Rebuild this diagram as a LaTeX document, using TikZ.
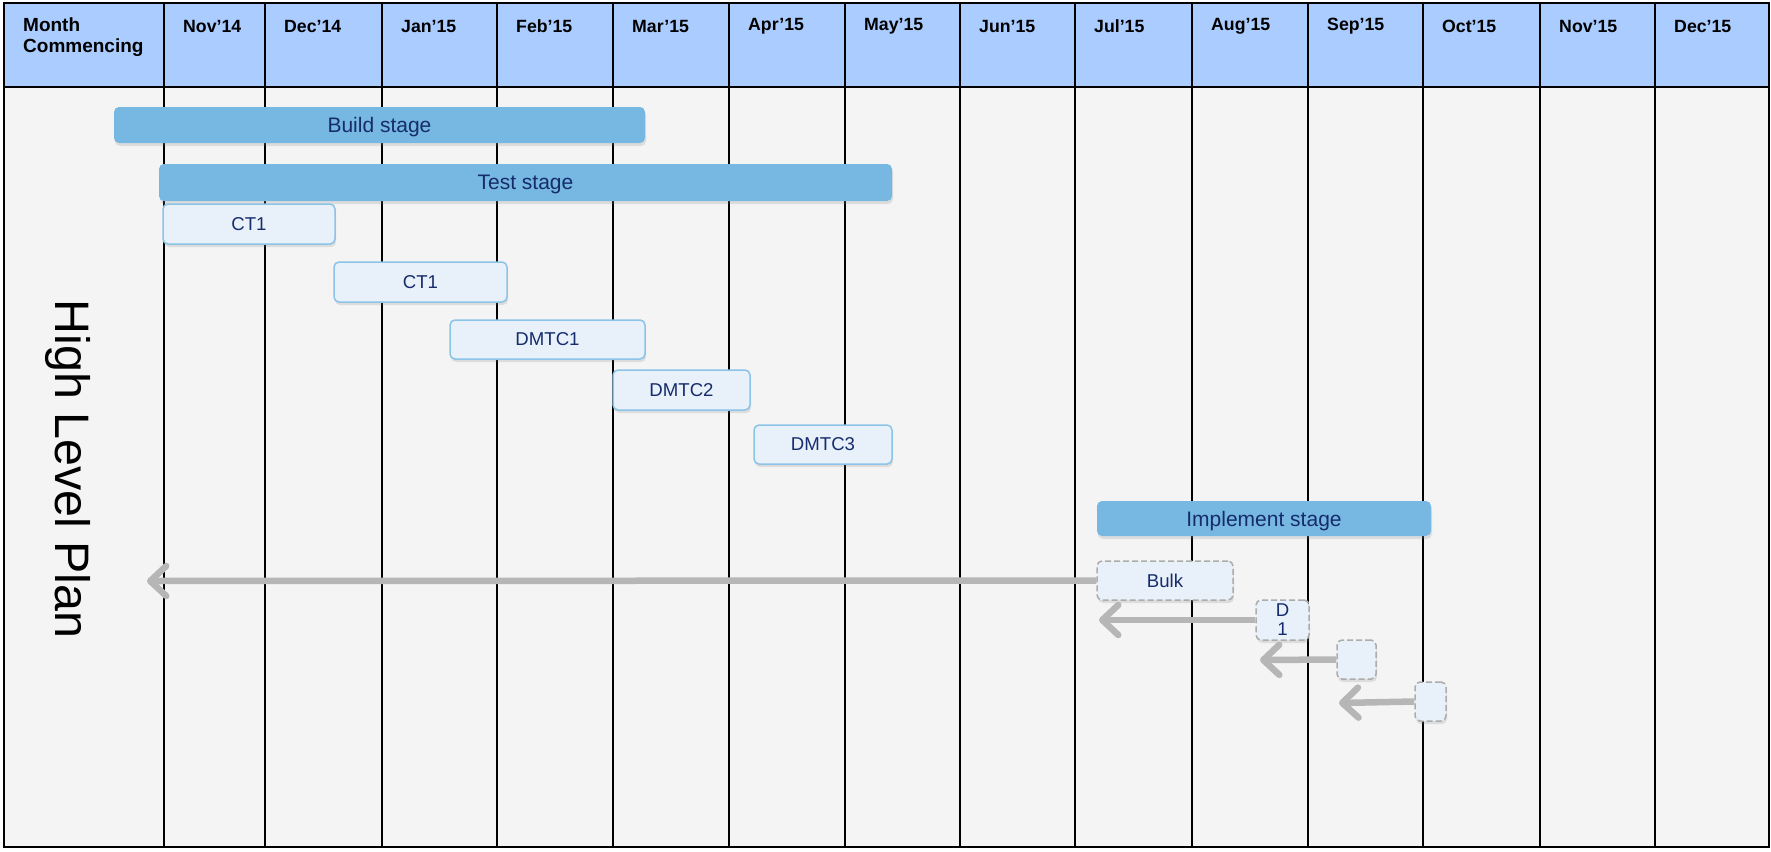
\documentclass[tikz,border=0pt]{standalone}
\usepackage{fontspec}
\setmainfont{Liberation Sans}
\usetikzlibrary{arrows.meta,shadows}

\definecolor{hdrblue}{RGB}{170,204,255}
\definecolor{bodygray}{RGB}{244,244,244}
\definecolor{stagefill}{RGB}{118,184,226}
\definecolor{navytext}{RGB}{22,44,108}
\definecolor{taskfill}{RGB}{232,240,249}
\definecolor{taskline}{RGB}{140,196,232}
\definecolor{dashline}{RGB}{172,172,172}
\definecolor{backgray}{RGB}{182,182,182}

\tikzset{
	stage/.style={rounded corners=5pt, fill=stagefill, text=navytext, inner sep=0pt,
		text depth=0pt, font=\fontsize{21}{24}\selectfont,
		drop shadow={shadow xshift=1pt, shadow yshift=-3pt, opacity=0.2}},
	task/.style={rounded corners=5pt, draw=taskline, line width=1.5pt, fill=taskfill,
		text=navytext, inner sep=0pt, font=\fontsize{18.6}{19}\selectfont,
		drop shadow={shadow xshift=1pt, shadow yshift=-3pt, opacity=0.2}},
	later/.style={task, draw=dashline, dash pattern=on 6pt off 3pt},
	back/.style={draw=backgray, line width=6.5pt,
		-{Straight Barb[length=16pt, width=30pt, round]}},
	month/.style={anchor=west, inner sep=0pt, font=\bfseries\fontsize{17.7}{20}\selectfont},
	grid/.style={line width=2.2pt}
}

\begin{document}
\begin{tikzpicture}[x=1pt, y=-1pt]

	% ---- canvas

	\useasboundingbox (0,0) rectangle (1771,851);
	\fill[bodygray] (4,3) rectangle (1769,847);
	\fill[hdrblue] (4,3) rectangle (1769,87);

	% ---- grid

	\foreach \x in {164,265,382,497,613,729,845,960,1075,1192,1308,1423,1540,1655} {
		\draw[grid] (\x,3) -- (\x,847);
	}
	\draw[grid] (4,87) -- (1769,87);
	\draw[grid] (4,3) rectangle (1769,847);

	% ---- header labels

	\node[month, anchor=north west, align=left, font=\bfseries\fontsize{19}{21}\selectfont]
		(hdr) at (23,18) {Month\\Commencing};
	\foreach \x/\m [count=\i] in {164/Nov'14, 265/Dec'14, 382/Jan'15, 497/Feb'15,
		613/Mar'15, 729/Apr'15, 845/May'15, 960/Jun'15, 1075/Jul'15, 1192/Aug'15,
		1308/Sep'15, 1423/Oct'15, 1540/Nov'15, 1655/Dec'15} {
		\node[month] (m\i) at ({\x+19},26) {\m};
	}

	% ---- title

	\node[rotate=-90, font=\fontsize{48.4}{50}\selectfont] (title) at (68,469) {High Level Plan};

	% ---- stages

	\node[stage, minimum width=531pt, minimum height=36pt] (build) at (379.5,125) {Build stage};
	\node[stage, minimum width=733pt, minimum height=37pt] (test) at (525.5,182.5) {Test stage};
	\node[stage, minimum width=334pt, minimum height=35pt] (impl) at (1264,518.5) {Implement stage};

	% ---- test cycles

	\node[task, minimum width=172pt, minimum height=40pt] (ct1a) at (249,224) {CT1};
	\node[task, minimum width=173pt, minimum height=40pt] (ct1b) at (420.5,282) {CT1};
	\node[task, minimum width=195pt, minimum height=39pt] (dmtc1) at (547.5,339.5) {DMTC1};
	\node[task, minimum width=137pt, minimum height=40pt] (dmtc2) at (681.5,390) {DMTC2};
	\node[task, minimum width=138pt, minimum height=39pt] (dmtc3) at (823,444.5) {DMTC3};

	% ---- implement boxes

	\node[later, minimum width=136pt, minimum height=39pt] (bulk) at (1165,580.5) {Bulk};
	\node[later, minimum width=53pt, minimum height=40pt, align=center] (d1) at (1282.5,620) {D\\1};
	\node[later, minimum width=39pt, minimum height=39pt] (sq1) at (1356.5,659.5) {};
	\node[later, minimum width=31pt, minimum height=39pt] (sq2) at (1430.5,701.5) {};

	% ---- arrow ends

	\coordinate (e1) at (147,581);
	\coordinate (e2) at (1099,620);
	\coordinate (e3) at (1260,660);
	\coordinate (e4) at (1339,703);

	% ---- arrows

	\draw[back] (bulk.west) -- (e1);
	\draw[back] (d1.west) -- (e2);
	\draw[back] (sq1.west) -- (e3);
	\draw[back] (sq2.west) -- (e4);

\end{tikzpicture}
\end{document}
